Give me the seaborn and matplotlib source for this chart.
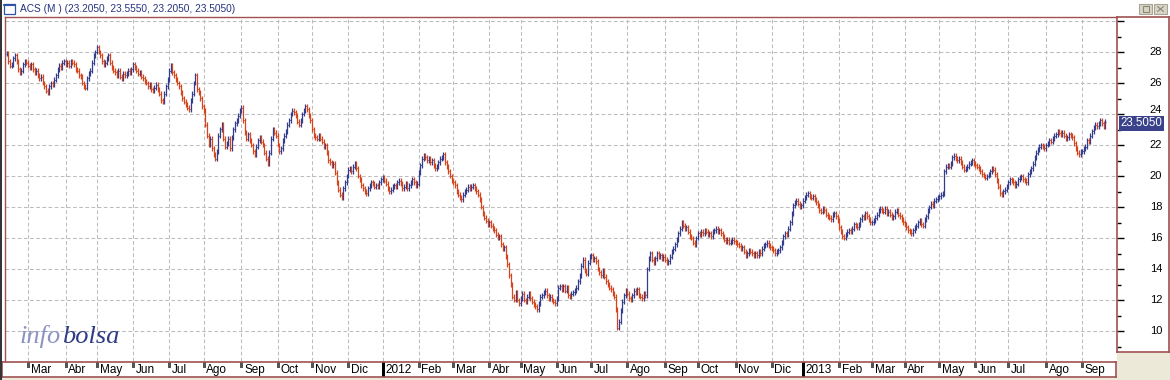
import numpy as np
import pandas as pd
import matplotlib
matplotlib.use("Agg")
import matplotlib.pyplot as plt
from matplotlib.patches import Rectangle
from matplotlib.lines import Line2D
import seaborn as sns

# ---------------- data ----------------
month_labels = ["", "Mar", "Abr", "May", "Jun", "Jul", "Ago", "Sep", "Oct", "Nov", "Dic",
                "2012", "Feb", "Mar", "Abr", "May", "Jun", "Jul", "Ago", "Sep", "Oct", "Nov", "Dic",
                "2013", "Feb", "Mar", "Abr", "May", "Jun", "Jul", "Ago", "Sep"]
days_per_month = [13, 23, 19, 22, 22, 21, 23, 22, 21, 22, 21,
                  22, 21, 22, 19, 22, 21, 22, 23, 20, 23, 22, 19,
                  22, 20, 20, 21, 22, 20, 23, 22, 15]

closes_2011 = [
    27.9, 27.4, 27.1, 27.2, 27.6, 27.8, 27.4, 26.9, 26.7, 26.8, 27.2, 27.4, 27.3,
    27.1, 27.0, 27.2, 26.9, 26.7, 26.8, 26.5, 26.3, 26.4, 26.0, 25.8, 25.5, 25.4, 25.8, 26.0, 25.9, 26.2, 26.5, 26.9, 27.1, 27.0, 27.3, 27.4,
    27.2, 27.3, 27.1, 27.4, 27.3, 27.2, 26.9, 26.8, 26.5, 26.4, 26.0, 25.8, 25.7, 26.3, 26.6, 26.8, 27.3, 27.8, 28.0,
    28.3, 28.0, 27.8, 27.4, 27.2, 27.3, 27.6, 27.8, 27.3, 27.0, 26.8, 26.7, 26.5, 26.8, 26.4, 26.3, 26.6, 26.5, 26.6, 26.8, 26.7, 26.9,
    27.2, 27.0, 26.8, 26.6, 26.7, 26.4, 26.3, 26.1, 26.0, 25.8, 25.9, 25.6, 25.5, 25.7, 25.9, 25.6, 25.3, 24.9, 24.8, 25.3, 25.8, 26.2,
    26.8, 27.1, 26.7, 26.5, 26.2, 26.0, 25.8, 25.4, 25.0, 24.8, 24.6, 24.4, 24.3, 24.9, 25.3, 26.0, 26.5, 25.6, 25.4, 25.0, 24.5,
    24.2, 23.3, 22.6, 22.0, 22.4, 21.8, 21.4, 21.1, 21.6, 22.6, 23.0, 23.3, 22.4, 21.9, 22.1, 22.4, 21.8, 22.5, 23.0, 23.4, 23.6, 23.9, 24.2,
    24.4, 23.6, 22.8, 22.4, 22.7, 22.3, 22.0, 21.6, 21.4, 21.9, 22.3, 22.5, 22.2, 22.0, 21.5, 21.1, 20.8, 21.5, 22.4, 23.0, 22.8, 22.6,
    22.0, 21.6, 21.8, 22.3, 22.6, 22.9, 23.3, 23.6, 24.0, 24.2, 24.1, 23.9, 23.5, 23.3, 23.6, 24.0, 24.2, 24.5, 24.3, 23.9, 23.6,
    23.0, 22.6, 22.5, 22.4, 22.6, 22.4, 22.2, 21.9, 22.0, 21.5, 21.0, 20.9, 20.7, 20.8, 20.2, 19.6, 19.1, 18.8, 18.6, 19.2, 19.6, 20.0,
    20.4, 20.5, 20.3, 20.6, 20.8, 20.5, 20.0, 19.8, 19.4, 19.2, 19.0, 18.9, 19.2, 19.4, 19.6, 19.5, 19.3, 19.4, 19.3, 19.6, 19.8,
]
closes_2012 = [
    19.9, 19.7, 19.5, 19.2, 19.0, 19.1, 19.3, 19.4, 19.3, 19.6, 19.7, 19.5, 19.2, 19.3, 19.5, 19.2, 19.4, 19.6, 19.8, 19.6, 19.4, 19.5,
    20.2, 20.7, 21.1, 21.3, 21.2, 21.0, 21.1, 20.9, 21.0, 20.7, 20.5, 20.6, 20.9, 21.1, 21.2, 21.4, 20.9, 20.6, 20.3, 20.0, 19.7,
    19.6, 19.4, 19.0, 18.8, 18.6, 18.5, 18.8, 19.0, 19.1, 19.3, 19.2, 19.3, 19.4, 19.2, 19.0, 18.8, 18.5, 18.0, 17.6, 17.3, 17.1, 16.9,
    17.0, 16.8, 16.6, 16.5, 16.2, 16.0, 16.1, 15.6, 15.3, 15.4, 14.8, 14.3, 13.6, 13.0, 12.2, 12.0, 12.5, 12.0, 11.8,
    12.1, 12.4, 12.0, 11.9, 12.2, 12.4, 12.1, 11.9, 11.7, 11.6, 11.4, 11.8, 12.2, 12.3, 12.5, 12.6, 12.3, 12.1, 12.2, 12.0, 11.9, 11.8,
    12.1, 12.8, 12.9, 12.7, 12.9, 12.6, 12.8, 12.3, 12.2, 12.4, 12.5, 12.6, 12.8, 13.2, 13.6, 14.2, 14.6, 13.9, 13.7, 14.4, 14.8,
    14.9, 14.6, 14.7, 14.5, 14.0, 13.8, 13.6, 13.9, 13.5, 13.2, 13.0, 12.8, 12.7, 12.4, 12.2, 11.4, 10.2, 10.6, 11.3, 11.9, 12.3, 12.6,
    12.4, 12.1, 12.0, 12.3, 12.6, 12.5, 12.7, 12.3, 12.2, 12.1, 12.4, 12.3, 14.0, 14.7, 15.0, 14.6, 14.4, 14.7, 15.0, 14.8, 14.9, 14.7, 14.8,
    14.6, 14.4, 14.5, 14.8, 15.1, 15.3, 15.6, 15.9, 16.3, 16.6, 17.0, 16.8, 16.6, 16.7, 16.4, 16.1, 16.0, 15.7, 15.6, 16.0,
    16.3, 16.2, 16.4, 16.3, 16.5, 16.4, 16.2, 16.3, 16.1, 16.4, 16.5, 16.6, 16.4, 16.5, 16.3, 16.1, 15.9, 15.8, 15.9, 15.7, 15.8, 15.9, 15.8,
    15.7, 15.6, 15.5, 15.3, 15.4, 15.1, 14.9, 15.0, 15.2, 15.1, 15.0, 14.9, 15.0, 14.9, 15.1, 15.0, 15.3, 15.5, 15.6, 15.7, 15.5, 15.4,
    15.3, 15.2, 15.0, 15.1, 15.2, 15.4, 15.7, 16.1, 16.3, 16.2, 16.6, 17.0, 17.6, 18.1, 18.3, 18.4, 18.2, 18.0, 18.1,
]
closes_2013 = [
    18.4, 18.6, 18.8, 18.9, 18.7, 18.6, 18.7, 18.5, 18.3, 18.1, 17.8, 17.7, 17.9, 17.8, 17.5, 17.4, 17.3, 17.2, 17.5, 17.6, 17.4, 17.1,
    16.7, 16.4, 16.1, 16.0, 16.2, 16.4, 16.5, 16.4, 16.6, 16.9, 16.8, 16.7, 16.9, 17.2, 17.4, 17.3, 17.6, 17.4, 17.2, 17.0,
    17.0, 17.1, 17.3, 17.5, 17.8, 17.9, 17.8, 17.7, 17.9, 17.6, 17.7, 17.5, 17.3, 17.4, 17.7, 17.8, 17.5, 17.4, 17.2, 17.0,
    16.9, 16.7, 16.5, 16.4, 16.3, 16.5, 16.7, 16.8, 17.0, 17.1, 16.9, 16.8, 17.2, 17.4, 17.8, 18.0, 18.2, 18.1, 18.4, 18.5, 18.6,
    18.7, 18.8, 18.9, 20.3, 20.6, 20.7, 20.6, 20.8, 21.2, 21.3, 21.1, 21.0, 21.1, 20.9, 20.6, 20.4, 20.5, 20.6, 20.8, 20.9, 21.0, 20.8,
    20.7, 20.6, 20.5, 20.3, 20.1, 20.0, 19.9, 20.0, 20.1, 20.3, 20.5, 20.4, 20.1, 19.7, 19.3, 18.9, 18.8, 19.0, 19.1, 19.3,
    19.6, 19.8, 19.7, 19.6, 19.4, 19.5, 19.8, 19.9, 20.0, 19.8, 19.7, 19.6, 20.1, 20.3, 20.5, 20.8, 21.2, 21.5, 21.7, 21.9, 22.0, 21.9, 21.8,
    22.0, 22.1, 22.3, 22.2, 22.4, 22.6, 22.7, 22.9, 22.8, 22.7, 22.8, 22.6, 22.4, 22.5, 22.7, 22.6, 22.5, 22.1, 21.8, 21.5, 21.4, 21.6,
    21.6, 21.8, 21.9, 22.3, 22.2, 22.6, 22.9, 23.1, 23.3, 23.2, 23.4, 23.6, 23.4, 23.205, 23.505,
]
value_ticks = [10, 12, 14, 16, 18, 20, 22, 24, 26, 28]
title_text = "ACS (M ) (23.2050, 23.5550, 23.2050, 23.5050)"
last_label = "23.5050"

# ---------------- style ----------------
sns.set_style("white")
plt.rcParams["font.family"] = ["Liberation Sans", "DejaVu Sans"]

BLUE = "#323d8e"
RED = "#d6441c"
FRAME = "#a05252"
GRID = "#bcbcbc"
BEIGE = "#ece9d8"

closes = np.array(closes_2011 + closes_2012 + closes_2013, dtype=float)
n = len(closes)
opens = np.concatenate([[closes[0]], closes[:-1]])
wick = 0.16
df = pd.DataFrame({
    "i": np.arange(n),
    "open": opens,
    "close": closes,
    "high": np.maximum(opens, closes) + wick,
    "low": np.minimum(opens, closes) - wick,
})
df["up"] = df["close"] >= df["open"]
month_starts = np.concatenate([[0], np.cumsum(days_per_month)[:-1]])

# pixel geometry helpers
W, H = 1170, 380
def fx(px):
    return px / W
def fy(py):
    return 1 - py / H
def idx_at(px):
    return (px - 6.65) / 1.642
def val_at(py):
    return 10 + (331 - py) / 15.5

fig = plt.figure(figsize=(W / 100, H / 100), dpi=100)
fig.patch.set_facecolor("white")

# ---------------- main price panel ----------------
L, R, T, B = 5, 1116, 17, 361
ax = fig.add_axes([fx(L), fy(B), fx(R - L), (B - T) / H])
ax.set_xlim(idx_at(L), idx_at(R))
ax.set_ylim(val_at(B), val_at(T))
ax.set_facecolor("white")

# grid
for v in range(10, 31, 2):
    ax.axhline(v, color=GRID, lw=0.75, ls=(0, (3.5, 2.4)), zorder=0)
for s in month_starts[1:]:
    ax.axvline(s, color=GRID, lw=0.75, ls=(0, (3.5, 2.4)), zorder=0)

TK = 0.42
for up, col in [(True, BLUE), (False, RED)]:
    d = df[df["up"] == up]
    ax.vlines(d["i"], d["low"], d["high"], color=col, lw=0.9, zorder=3)
    ax.hlines(d["open"], d["i"] - TK, d["i"], color=col, lw=0.7, zorder=3)
    ax.hlines(d["close"], d["i"], d["i"] + TK, color=col, lw=0.7, zorder=3)

ax.set_xticks([])
ax.set_yticks([])
for side in ["top", "left"]:
    ax.spines[side].set_color(FRAME)
    ax.spines[side].set_linewidth(1.0)
ax.spines["right"].set_visible(False)
ax.spines["bottom"].set_visible(False)

# watermark
t_info = ax.text(fx(20), fy(343), "info", transform=fig.transFigure, fontsize=19, style="italic",
                 family="Liberation Serif", color="#8c94c2", va="baseline", ha="left")
ax.annotate("bolsa", xy=(1, 0), xycoords=t_info, xytext=(0.5, 0), textcoords="offset points",
            fontsize=19, style="italic", family="Liberation Serif", color="#2f3b86",
            va="bottom", ha="left")

# ---------------- right value panel ----------------
RB = 352
axr = fig.add_axes([fx(1117), fy(RB), fx(1169 - 1117), (RB - T) / H])
axr.set_ylim(val_at(RB), val_at(T))
axr.set_xlim(0, 1)
axr.set_facecolor("white")
axr.set_xticks([])
axr.set_yticks(list(range(10, 31, 2)))
axr.set_yticks(list(range(9, 31, 2)), minor=True)
axr.tick_params(axis="y", which="major", direction="in", length=5, width=1,
                color="black", left=True, right=False, labelleft=False)
axr.tick_params(axis="y", which="minor", direction="in", length=3, width=1,
                color="black", left=True, right=False)
for s in axr.spines.values():
    s.set_color(FRAME)
    s.set_linewidth(1.2)
for v in value_ticks:
    axr.text(0.63, v + (0.25 if v == 24 else 0), str(v), fontsize=8, ha="left", va="center",
             color="black")
last_close = closes[-1]
axr.text(0.07, last_close - 0.1, last_label, fontsize=8.3, ha="left", va="center", color="white",
         zorder=5, bbox=dict(boxstyle="square,pad=0.12", fc="#39428a", ec="none"))

# ---------------- date strip ----------------
DL, DT, DB = 2, 362, 377
axd = fig.add_axes([fx(DL), fy(DB), fx(R - DL), (DB - DT) / H])
axd.set_xlim(idx_at(DL), idx_at(R))
axd.set_ylim(0, 1)
axd.set_xticks([])
axd.set_yticks([])
axd.set_facecolor("white")
for s in axd.spines.values():
    s.set_color(FRAME)
    s.set_linewidth(1.2)
for s, lab in zip(month_starts, month_labels):
    if lab == "":
        continue
    if lab.isdigit():
        axd.vlines(s, 0, 1, color="black", lw=1.0, antialiased=False)
    else:
        axd.vlines(s, 0.68, 1, color="#555555", lw=0.8, antialiased=False)
    axd.text(s + 1.6, 0.45, lab, fontsize=8.5, ha="left", va="center", color="black")

# ---------------- window chrome ----------------
fig.patches.append(Rectangle((fx(1117), 0), fx(W - 1117), 1 - fy(RB + 1), transform=fig.transFigure,
                             fc=BEIGE, ec="none", zorder=-1))
fig.patches.append(Rectangle((0, 0), 1, 2 / H, transform=fig.transFigure, fc=BEIGE, ec="none", zorder=-1))
fig.lines.append(Line2D([fx(0.8), fx(0.8)], [0, 1], transform=fig.transFigure, color="#303030", lw=1.4))
fig.patches.append(Rectangle((fx(4), fy(14)), fx(11), 10 / H, transform=fig.transFigure,
                             fc="white", ec="#2c53a6", lw=0.9))
fig.lines.append(Line2D([fx(4), fx(15)], [fy(4.5), fy(4.5)], transform=fig.transFigure, color="#2c53a6", lw=1.5))
fig.text(fx(20), fy(8.5), title_text, fontsize=7.3, color="#27347e", ha="left", va="center")
for bx in (1139, 1154):
    fig.patches.append(Rectangle((fx(bx), fy(14)), fx(13), 10 / H, transform=fig.transFigure,
                                 fc="#d9d5c6", ec="#a8a494", lw=0.8))
fig.patches.append(Rectangle((fx(1142.5), fy(11.5)), fx(6), 5 / H, transform=fig.transFigure,
                             fc="none", ec="#8a8678", lw=0.8))
fig.lines.append(Line2D([fx(1157.5), fx(1163.5)], [fy(6.5), fy(11.5)], transform=fig.transFigure, color="#8a8678", lw=0.8))
fig.lines.append(Line2D([fx(1157.5), fx(1163.5)], [fy(11.5), fy(6.5)], transform=fig.transFigure, color="#8a8678", lw=0.8))

fig.savefig("out.png", dpi=100, facecolor=fig.get_facecolor())
